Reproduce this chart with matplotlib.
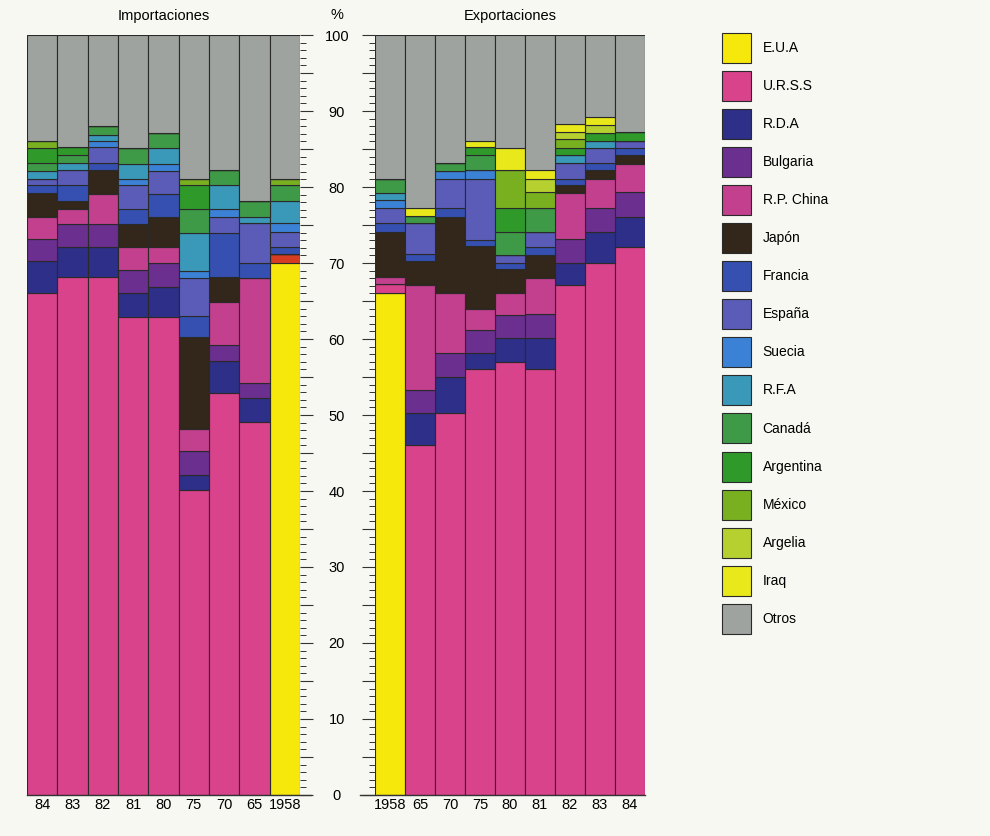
import numpy as np
import matplotlib
matplotlib.use('Agg')
import matplotlib.pyplot as plt
from matplotlib.patches import Patch
from matplotlib.ticker import MultipleLocator, FuncFormatter

plt.rcParams['font.family'] = ['Liberation Sans', 'DejaVu Sans']

# --- Importaciones (de izquierda a derecha) ---
imp_years = ['84', '83', '82', '81', '80', '75', '70', '65', '1958']
imp_eua = [0, 0, 0, 0, 0, 0, 0, 0, 70.0]
imp_rojo = [0, 0, 0, 0, 0, 0, 0, 0, 1.2]
imp_urss = [66.0, 68.2, 68.2, 62.9, 62.9, 40.1, 52.9, 49.1, 0]
imp_rda = [4.2, 3.9, 3.9, 3.2, 4.0, 2.0, 4.2, 3.1, 0]
imp_bulgaria = [2.9, 3.0, 3.0, 3.0, 3.1, 3.1, 2.1, 2.0, 0]
imp_china = [3.0, 2.0, 4.0, 3.0, 2.1, 3.0, 5.7, 13.8, 0]
imp_japon = [3.1, 1.1, 3.1, 3.0, 4.0, 12.0, 3.2, 0, 0]
imp_francia = [1.1, 2.1, 0.9, 2.0, 3.0, 2.8, 5.9, 2.0, 0.9]
imp_espana = [0.7, 1.9, 2.1, 3.1, 3.0, 5.0, 2.1, 5.2, 2.0]
imp_suecia = [0, 0, 0.9, 0.8, 0.9, 1.0, 1.0, 0, 1.1]
imp_rfa = [1.1, 0.9, 0.8, 2.0, 2.1, 4.9, 3.2, 0.8, 2.9]
imp_canada = [1.1, 1.1, 1.1, 2.1, 2.0, 3.2, 1.9, 2.2, 2.2]
imp_argentina = [1.9, 1.1, 0, 0, 0, 3.1, 0, 0, 0]
imp_mexico = [1.0, 0, 0, 0, 0, 0.9, 0, 0, 0.8]
imp_argelia = [0, 0, 0, 0, 0, 0, 0, 0, 0]
imp_iraq = [0, 0, 0, 0, 0, 0, 0, 0, 0]
imp_otros = [13.9, 14.7, 12.0, 14.9, 12.9, 18.9, 17.8, 21.8, 18.9]

# --- Exportaciones ---
exp_years = ['1958', '65', '70', '75', '80', '81', '82', '83', '84']
exp_eua = [66.1, 0, 0, 0, 0, 0, 0, 0, 0]
exp_rojo = [0, 0, 0, 0, 0, 0, 0, 0, 0]
exp_urss = [1.1, 46.1, 50.2, 56.0, 57.0, 56.0, 67.1, 70.0, 72.1]
exp_rda = [0, 4.1, 4.8, 2.1, 3.1, 4.1, 2.9, 4.1, 4.0]
exp_bulgaria = [0, 3.1, 3.1, 3.1, 3.1, 3.2, 3.1, 3.1, 3.2]
exp_china = [1.0, 13.8, 8.0, 2.8, 2.9, 4.7, 6.1, 3.9, 3.7]
exp_japon = [5.9, 3.1, 10.0, 8.2, 3.1, 3.1, 1.1, 1.1, 1.2]
exp_francia = [1.1, 1.0, 1.1, 0.8, 0.8, 1.0, 0.8, 0.9, 0.9]
exp_espana = [2.0, 4.0, 3.9, 8.1, 1.1, 2.0, 2.0, 2.0, 1.0]
exp_suecia = [1.1, 0, 1.0, 1.1, 0, 0, 0, 0, 0]
exp_rfa = [0.9, 0, 0, 0, 0, 0, 1.1, 1.0, 0]
exp_canada = [1.9, 1.0, 1.1, 2.0, 3.0, 3.1, 0, 0, 0]
exp_argentina = [0, 0, 0, 1.0, 3.1, 0, 0.9, 1.0, 1.2]
exp_mexico = [0, 0, 0, 0, 5.0, 2.1, 1.2, 0, 0]
exp_argelia = [0, 0, 0, 0, 0, 1.8, 1.0, 1.1, 0]
exp_iraq = [0, 1.0, 0, 0.9, 2.9, 1.1, 1.0, 1.0, 0]
exp_otros = [18.9, 22.8, 16.8, 13.9, 14.9, 17.8, 11.7, 10.8, 12.7]

names = ['E.U.A', '', 'U.R.S.S', 'R.D.A', 'Bulgaria', 'R.P. China', 'Japón',
         'Francia', 'España', 'Suecia', 'R.F.A', 'Canadá', 'Argentina',
         'México', 'Argelia', 'Iraq', 'Otros']
colors = ['#f7e80c', '#d63c22', '#d9438c', '#2e2f88', '#6a2f8f', '#c2408e',
          '#33261a', '#3550b0', '#5a5cb8', '#3b82d6', '#3a98b8', '#3f9a48',
          '#2f9a2a', '#78b020', '#b6d030', '#e8e81a', '#9ea3a0']

imp_series = [imp_eua, imp_rojo, imp_urss, imp_rda, imp_bulgaria, imp_china,
              imp_japon, imp_francia, imp_espana, imp_suecia, imp_rfa,
              imp_canada, imp_argentina, imp_mexico, imp_argelia, imp_iraq,
              imp_otros]
exp_series = [exp_eua, exp_rojo, exp_urss, exp_rda, exp_bulgaria, exp_china,
              exp_japon, exp_francia, exp_espana, exp_suecia, exp_rfa,
              exp_canada, exp_argentina, exp_mexico, exp_argelia, exp_iraq,
              exp_otros]

bg = '#f6f8f1'
edge = '#2a2a2a'

fig = plt.figure(figsize=(9.9, 8.36), dpi=100, facecolor=bg)
W, H = 990, 836


def px_axes(x0, x1, y_top, y_bot):
    return fig.add_axes([x0 / W, 1 - y_bot / H, (x1 - x0) / W, (y_bot - y_top) / H])


def stacked(ax, years, series):
    x = np.arange(len(years))
    bottom = np.zeros(len(years))
    for vals, c in zip(series, colors):
        v = np.array(vals, dtype=float)
        ax.bar(x, v, bottom=bottom, width=1.0, color=c, edgecolor=edge,
               linewidth=0.8)
        bottom += v
    ax.set_xlim(-0.5, len(years) - 0.5)
    ax.set_ylim(0, 100)
    ax.set_facecolor(bg)
    for s in ax.spines.values():
        s.set_visible(False)
    ax.set_xticks(x)
    ax.set_xticklabels(years, fontsize=10.5)
    ax.tick_params(axis='x', length=0, pad=2)
    ax.yaxis.set_major_locator(MultipleLocator(5))
    ax.yaxis.set_minor_locator(MultipleLocator(1))
    ax.tick_params(axis='y', which='major', length=9.5, width=0.8,
                   color='#333333', direction='out')
    ax.tick_params(axis='y', which='minor', length=4.5, width=0.7,
                   color='#333333', direction='out')


ax1 = px_axes(27, 300, 35, 795)
stacked(ax1, imp_years, imp_series)
ax1.yaxis.set_ticks_position('right')
ax1.yaxis.set_major_formatter(FuncFormatter(
    lambda v, p: '%d' % v if int(round(v)) % 10 == 0 else ''))
ax1.tick_params(axis='y', which='major', pad=17, labelsize=10.5)
for lbl in ax1.get_yticklabels():
    lbl.set_horizontalalignment('center')
ax1.plot([0, 1.04], [0, 0], transform=ax1.get_yaxis_transform(),
         color='#333333', lw=1.0, clip_on=False)
ax1.set_title('Importaciones', fontsize=10.5, pad=11)

ax2 = px_axes(375, 645, 35, 795)
stacked(ax2, exp_years, exp_series)
ax2.yaxis.set_ticks_position('left')
ax2.tick_params(axis='y', which='both', labelleft=False)
ax2.plot([-0.055, 1], [0, 0], transform=ax2.get_yaxis_transform(),
         color='#333333', lw=1.0, clip_on=False)
ax2.set_title('Exportaciones', fontsize=10.5, pad=11)

fig.text(337 / W, 1 - 15 / H, '%', ha='center', va='center', fontsize=10.5)

handles = [Patch(facecolor=c, edgecolor=edge, linewidth=0.8)
           for n, c in zip(names, colors) if n]
labels = [n for n in names if n]
fig.legend(handles, labels, loc='upper left',
           bbox_to_anchor=(716 / W, 1 - 27 / H), frameon=False,
           fontsize=10, handlelength=2.15, handleheight=2.95,
           labelspacing=0.58, handletextpad=0.8, borderaxespad=0)

fig.savefig('out.png', dpi=100, facecolor=bg)
